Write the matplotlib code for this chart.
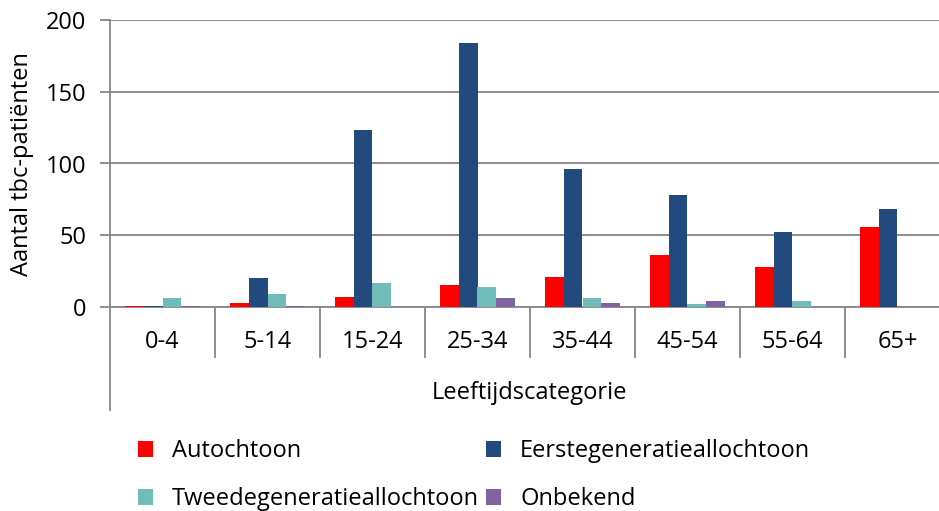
import matplotlib.pyplot as plt
import numpy as np

plt.rcParams['font.family'] = ['Open Sans', 'DejaVu Sans']

categories = ['0-4', '5-14', '15-24', '25-34', '35-44', '45-54', '55-64', '65+']
autochtoon = [1, 3, 7, 15, 21, 36, 28, 56]
eerste_gen = [1, 20, 123, 184, 96, 78, 52, 68]
tweede_gen = [6, 9, 17, 14, 6, 2, 4, 0]
onbekend = [1, 1, 0, 6, 3, 4, 0, 0]

series = [
    ('Autochtoon', autochtoon, '#FF0000'),
    ('Eerstegeneratieallochtoon', eerste_gen, '#224A7E'),
    ('Tweedegeneratieallochtoon', tweede_gen, '#70BCB9'),
    ('Onbekend', onbekend, '#8064A2'),
]

W, H = 939, 511
fs = 17
fig = plt.figure(figsize=(W / 100, H / 100), dpi=100)
ax = fig.add_axes([110 / W, (H - 307) / H, 840 / W, 287 / H])

x = np.arange(len(categories))
bw = 0.18
bars = []
for i, (name, vals, color) in enumerate(series):
    b = ax.bar(x + (i - 1.5) * bw, vals, bw, color=color, label=name, zorder=3)
    bars.append(b)

ax.set_xlim(-0.5, len(categories) - 0.5)
ax.set_ylim(0, 200)
ax.set_yticks([0, 50, 100, 150, 200])
ax.yaxis.grid(True, color='#868686', linewidth=1.3, zorder=0)
ax.tick_params(axis='y', length=7, width=1.3, color='#868686', labelsize=fs, pad=10)
ax.set_xticks([])
for s in ['top', 'right']:
    ax.spines[s].set_visible(False)
ax.spines['left'].set_color('#868686')
ax.spines['left'].set_linewidth(1.3)
ax.spines['bottom'].set_color('#868686')
ax.spines['bottom'].set_linewidth(1.3)

# category separators below the axis and long left axis line
trans = ax.get_xaxis_transform()
for k in range(1, len(categories) + 1):
    ax.plot([k - 0.5, k - 0.5], [0, -50 / 287], transform=trans, color='#868686',
            linewidth=1.3, clip_on=False)
ax.plot([-0.5, -0.5], [0, -103 / 287], transform=trans, color='#868686',
        linewidth=1.3, clip_on=False)
for k, c in enumerate(categories):
    ax.text(k, -35 / 287, c, transform=trans, ha='center', va='center', fontsize=fs)

fig.text(530 / W, 1 - 393 / H, 'Leeftijdscategorie', ha='center', va='center', fontsize=fs)
fig.text(22 / W, 1 - 164 / H, 'Aantal tbc-patiënten', ha='center', va='center',
         rotation=90, fontsize=fs)

order = [0, 2, 1, 3]
fig.legend([bars[i] for i in order], [series[i][0] for i in order],
           ncol=2, loc='upper left', bbox_to_anchor=(138 / W, 1 - 439 / H),
           frameon=False, fontsize=fs, borderpad=0, borderaxespad=0,
           handlelength=0.64, handleheight=0.64,
           handletextpad=0.8, columnspacing=0.3, labelspacing=1.02)

fig.savefig('out.png', dpi=100)
